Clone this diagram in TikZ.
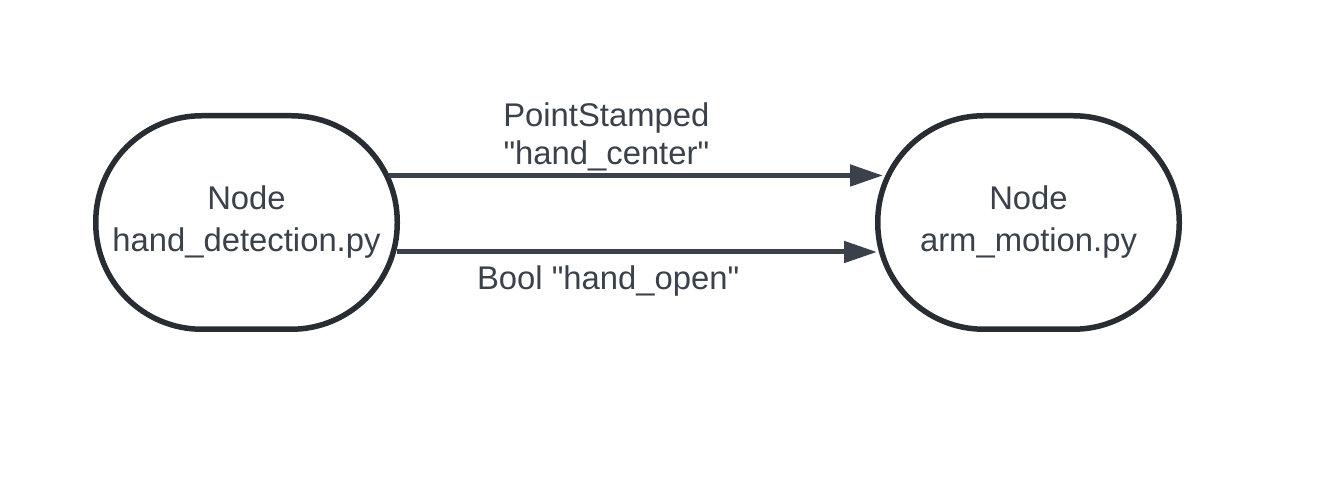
\documentclass[tikz,border=0pt]{standalone}
\usepackage{fontspec}
\setmainfont{Liberation Sans}
\usepackage{xcolor}
\usetikzlibrary{positioning,arrows.meta}
\definecolor{edgegray}{HTML}{282C33}
\definecolor{textgray}{HTML}{3A414A}
\tikzset{
    rosnode/.style={draw=edgegray, line width=2.75pt, fill=white, rounded corners=53pt,
        minimum width=150.75pt, minimum height=106.75pt, align=center, text=textgray,
        font=\fontsize{16.4}{21}\selectfont},
    topic/.style={draw=textgray, line width=2.5pt, -{Triangle[length=16.5pt,width=10.5pt]}},
    topiclabel/.style={text=textgray, inner sep=0pt, align=center,
        font=\fontsize{16.4}{19}\selectfont}
}
\begin{document}
\begin{tikzpicture}
        \useasboundingbox (0,0) rectangle (663pt,-245pt);
        \node[rosnode] (detect) at (123.25pt,-111.25pt) {Node\\hand\_detection.py};
        \node[rosnode, right=237.5pt of detect] (motion) {Node\\arm\_motion.py};
        \draw[topic] ([xshift=-5.5pt,yshift=23.5pt]detect.east) -- node[topiclabel, pos=0.44, anchor=south, yshift=0.75pt] {PointStamped\\\textquotedbl hand\_center\textquotedbl} ([xshift=4pt,yshift=23.5pt]motion.west);
        \draw[topic] ([xshift=-1.5pt,yshift=-14.75pt]detect.east) -- node[topiclabel, pos=0.44, anchor=base, yshift=-19pt] {Bool \textquotedbl hand\_open\textquotedbl} ([xshift=1pt,yshift=-14.75pt]motion.west);
    \end{tikzpicture}
\end{document}
